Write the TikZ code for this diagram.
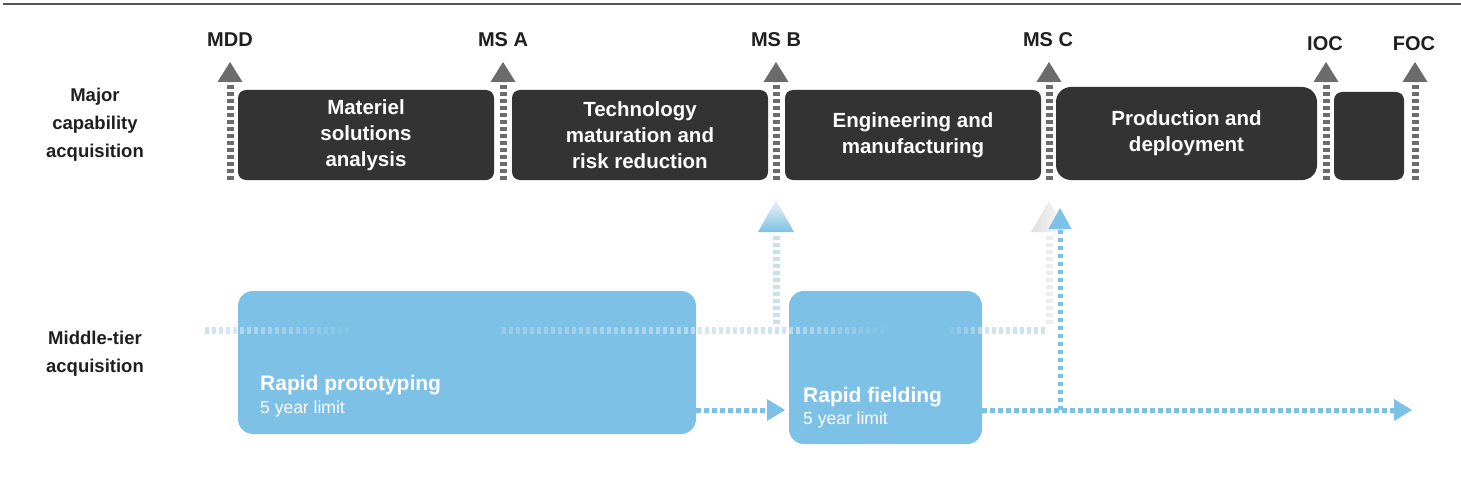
\documentclass[tikz,border=0pt]{standalone}
\usepackage{fontspec}
\setmainfont{Liberation Sans}
\usetikzlibrary{arrows.meta}
\definecolor{darkbox}{HTML}{333333}
\definecolor{arrowgray}{HTML}{6B6B6B}
\definecolor{blu}{HTML}{7DC1E6}
\definecolor{fadeblu}{HTML}{C9E0EE}
\definecolor{fadegray}{HTML}{ECECEC}
\definecolor{rulegray}{HTML}{555555}
\definecolor{labelblack}{HTML}{1F1F1F}
\begin{document}
\begin{tikzpicture}[x=1pt,y=-1pt,
  phase/.style={fill=darkbox, rounded corners=8pt, inner sep=0pt, text=white,
    font=\bfseries\fontsize{20.5}{26}\selectfont, align=center},
  tierbox/.style={fill=blu, rounded corners=15pt, inner sep=0pt},
  msline/.style={draw=arrowgray, line width=7pt, dash pattern=on 4pt off 3pt,
    -{Triangle[width=25pt,length=20pt,line width=0pt]}},
  bline/.style={draw=blu, line width=5pt, dash pattern=on 4.5pt off 3.5pt,
    -{Triangle[width=22pt,length=18pt,line width=0pt]}},
  mslabel/.style={font=\bfseries\fontsize{20}{24}\selectfont, text=labelblack, anchor=base},
  rowlabel/.style={font=\bfseries\fontsize{18.5}{28}\selectfont, text=labelblack, align=center},
  tiertitle/.style={font=\bfseries\fontsize{21}{24}\selectfont, text=white, anchor=base west, inner sep=0pt},
  tiersub/.style={font=\fontsize{17.5}{20}\selectfont, text=white, anchor=base west, inner sep=0pt}
]
\useasboundingbox (0,0) rectangle (1461,492);
% top rule
\coordinate (r1) at (3,4);
\coordinate (r2) at (1461,4);
\draw[rulegray, line width=1.5pt] (r1) -- (r2);

% row labels
\node[rowlabel] (lmaj) at (95,125) {Major\\capability\\acquisition};
\node[rowlabel] (lmid) at (95,354) {Middle-tier\\acquisition};

% milestone labels
\node[mslabel] (mdd) at (230,47) {MDD};
\node[mslabel] (msa) at (503,47) {MS A};
\node[mslabel] (msb) at (776,47) {MS B};
\node[mslabel] (msc) at (1048,47) {MS C};
\node[mslabel] (ioc) at (1325,51) {IOC};
\node[mslabel] (foc) at (1414,51) {FOC};

% phase boxes
\node[phase, minimum width=256pt, minimum height=90pt] (p1) at (366,135) {Materiel\\solutions\\analysis};
\node[phase, minimum width=256pt, minimum height=90pt] (p2) at (640,135) {Technology\\maturation and\\risk reduction};
\node[phase, minimum width=256pt, minimum height=90pt] (p3) at (913,135) {Engineering and\\manufacturing};
\node[phase, rounded corners=15pt, minimum width=261pt, minimum height=93pt] (p4) at (1186.5,133.5) {Production and\\deployment};
\node[phase, minimum width=70pt, minimum height=88pt] (p5) at (1369,136) {};

% milestone lines
\foreach \n/\x in {mdd/230, msa/503, msb/776, msc/1049, ioc/1326, foc/1415}{
  \coordinate (\n-b) at (\x,180);
  \coordinate (\n-t) at (\x,62);
  \draw[msline] (\n-b) -- (\n-t);
}

% middle-tier boxes
\node[tierbox, minimum width=458pt, minimum height=143pt] (rp) at (467,362.5) {};
\node[tierbox, minimum width=193pt, minimum height=153pt] (rf) at (885.5,367.5) {};
\node[tiertitle] (rpt) at (260,390) {Rapid prototyping};
\node[tiersub] (rps) at (260,413) {5 year limit};
\node[tiertitle] (rft) at (803,402) {Rapid fielding};
\node[tiersub] (rfs) at (803,424) {5 year limit};

% faded horizontal line at y=330
\foreach \x in {205,212,...,345}{
  \pgfmathsetmacro\op{0.9-0.8*(\x-205)/140}
  \fill[fadeblu, opacity=\op] (\x,326.5) rectangle ++(4,7);
}
\foreach \x in {502,509,...,888}{
  \pgfmathsetmacro\op{\x<775 ? 0.35+0.55*(\x-502)/273 : 0.9*(890-\x)/115}
  \fill[fadeblu, opacity=\op] (\x,326.5) rectangle ++(4,7);
}
\foreach \x in {950,957,...,1044}{
  \pgfmathsetmacro\op{min(0.9,0.15+(\x-950)/50)}
  \fill[fadeblu, opacity=\op] (\x,326.5) rectangle ++(4,7);
}

% faded MS B arrow
\foreach \y in {236,243,...,324}{
  \fill[fadeblu] (773,\y) rectangle ++(7,4);
}
\shade[top color=gray!10, bottom color=blu] (758,232) -- (776,200) -- (794,232) -- cycle;

% faded MS C arrow
\foreach \y in {236,243,...,324}{
  \fill[fadegray] (1045.5,\y) rectangle ++(7,4);
}
\shade[left color=gray!25, right color=gray!3] (1031,232) -- (1049,201) -- (1067,232) -- cycle;

% blue dotted connectors
\coordinate (a1s) at (696,410);
\coordinate (a1e) at (785,410);
\draw[bline] (a1s) -- (a1e);
\coordinate (a2s) at (982,410);
\coordinate (a2e) at (1412,410);
\draw[bline] (a2s) -- (a2e);
\coordinate (a3s) at (1060,410);
\coordinate (a3e) at (1060,208);
\draw[bline, -{Triangle[width=23pt,length=21pt,line width=0pt]}] (a3s) -- (a3e);
\end{tikzpicture}
\end{document}
